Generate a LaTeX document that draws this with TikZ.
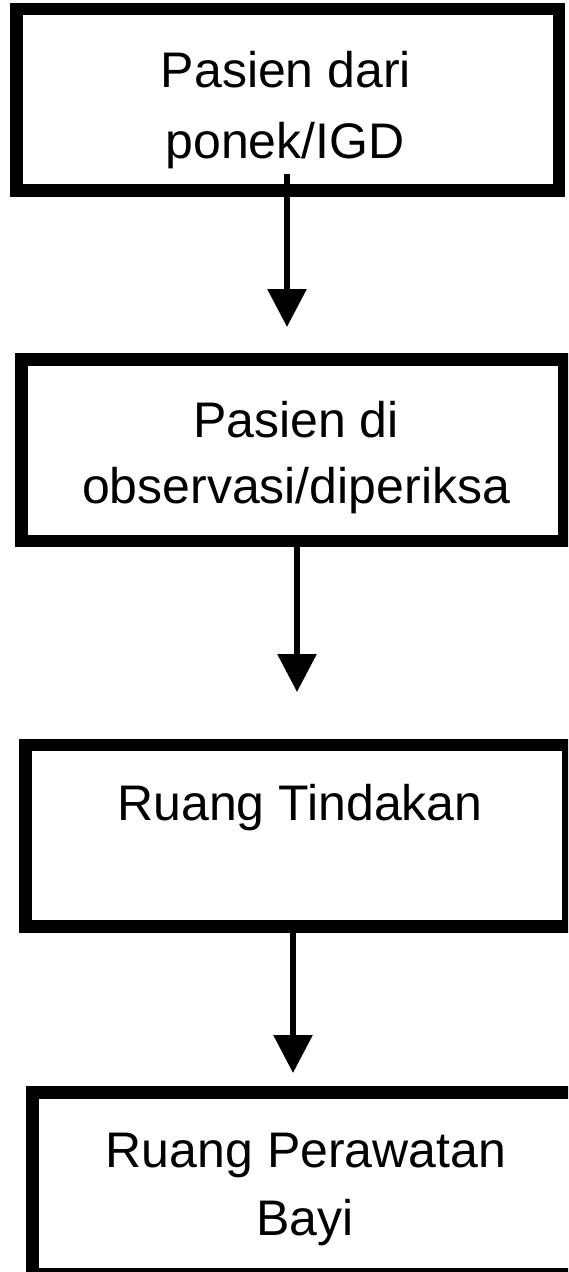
\documentclass[tikz,border=0pt]{standalone}
\usepackage{fontspec}
\setmainfont{Liberation Sans}
\usetikzlibrary{arrows.meta,calc}
\begin{document}
\begin{tikzpicture}[x=1pt,y=-1pt,
  stepbox/.style={draw=black,fill=white,line width=12.5pt,rectangle,inner sep=0pt,outer sep=0pt,
    minimum width=542.5pt,minimum height=181.5pt},
  txt/.style={anchor=base,inner sep=0pt,outer sep=0pt,font=\fontsize{50}{60}\selectfont},
  arr/.style={draw=black,line width=6pt,-{Triangle[length=38pt,width=38pt]}}
]
\useasboundingbox (0,0) rectangle (568,1272);
\clip (0,0) rectangle (568,1272);
\fill[white] (0,0) rectangle (568,1272);

% boxes
\node[stepbox] (b1) at (287.5,99.5) {};
\node[stepbox] (b2) at (292.75,450) {};
\node[stepbox] (b3) at (296.5,835.5) {};
\node[stepbox] (b4) at (303.5,1183) {};

% texts
\node[txt] (t1a) at (286,87) {Pasien dari};
\node[txt] (t1b) at (285,158) {ponek/IGD};
\node[txt] (t2a) at (296,437) {Pasien di};
\node[txt] (t2b) at (296,503) {observasi/diperiksa};
\node[txt] (t3) at (300,820) {Ruang Tindakan};
\node[txt] (t4a) at (306,1167) {Ruang Perawatan};
\node[txt] (t4b) at (305,1235) {Bayi};

% arrow ends
\coordinate (e1) at (287,327);
\coordinate (e2) at (297,692);
\coordinate (e3) at (293,1073);

\draw[arr] ($(b1.south -| e1)+(0,-16)$) -- (e1);
\draw[arr] (b2.south -| e2) -- (e2);
\draw[arr] (b3.south -| e3) -- (e3);
\end{tikzpicture}
\end{document}
